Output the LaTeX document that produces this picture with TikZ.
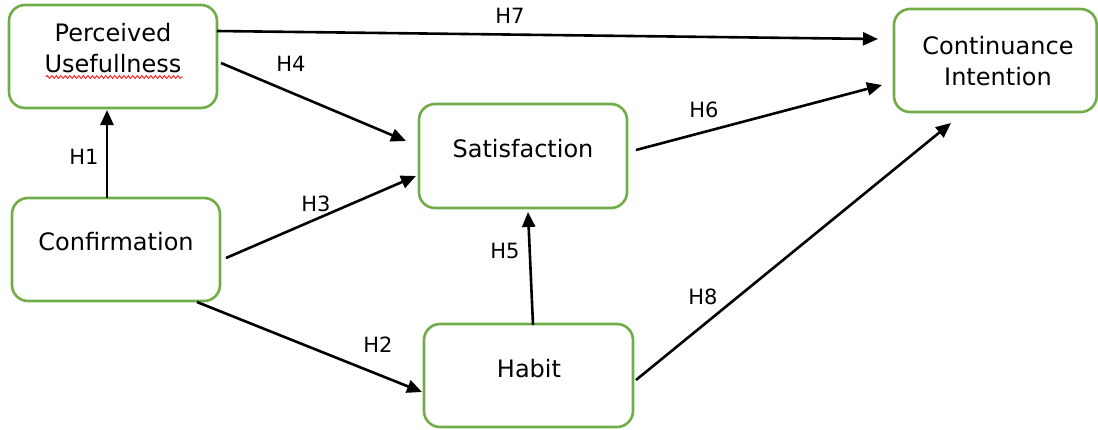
\documentclass[tikz,border=0pt]{standalone}
\usepackage{fontspec}
\setmainfont{DejaVu Sans}
\usetikzlibrary{arrows.meta,decorations.pathmorphing}
\definecolor{boxgreen}{HTML}{70AD47}
\begin{document}
\begin{tikzpicture}[x=1pt,y=-1pt,
  box/.style={draw=boxgreen,line width=2.6pt,rounded corners=16pt,fill=white},
  lbl/.style={font=\fontsize{24}{31}\selectfont,align=center,inner sep=0pt},
  hl/.style={font=\fontsize{21}{22}\selectfont,inner sep=0pt},
  conn/.style={line width=2.6pt,-{Triangle[length=15pt,width=13pt]}}]
\useasboundingbox (0,0) rectangle (1098,429);
% boxes
\draw[box] (9,5) rectangle (217,108);
\draw[box] (12,198) rectangle (220,301);
\draw[box] (419,104) rectangle (627,208);
\draw[box] (424,324) rectangle (633,427);
\draw[box] (894,9) rectangle (1096.7,112);
% texts
\node[lbl] (pu) at (113,48) {Perceived\\Usefullness};
\node[lbl] (cf) at (116,242) {Confirmation};
\node[lbl] (sa) at (523,149) {Satisfaction};
\node[lbl] (hb) at (529,369) {Habit};
\node[lbl] (ci) at (998,61) {Continuance\\Intention};
\draw[red,line width=0.8pt,decorate,decoration={snake,amplitude=1.4pt,segment length=4.5pt}] (46,77) -- (183,77);
% anchor coordinates
\coordinate (h1s) at (107,198); \coordinate (h1e) at (107,110);
\coordinate (h7s) at (217,31);  \coordinate (h7e) at (878,39);
\coordinate (h4s) at (221,63);  \coordinate (h4e) at (406,141);
\coordinate (h3s) at (226,258); \coordinate (h3e) at (416,176);
\coordinate (h6s) at (636,150); \coordinate (h6e) at (882,85);
\coordinate (h2s) at (197,302); \coordinate (h2e) at (422,392);
\coordinate (h5s) at (533,325); \coordinate (h5e) at (528,212);
\coordinate (h8s) at (636,380); \coordinate (h8e) at (951,123);
% connectors
\draw[conn] (h1s) -- (h1e);
\draw[conn] (h7s) -- (h7e);
\draw[conn] (h4s) -- (h4e);
\draw[conn] (h3s) -- (h3e);
\draw[conn] (h6s) -- (h6e);
\draw[conn] (h2s) -- (h2e);
\draw[conn] (h5s) -- (h5e);
\draw[conn] (h8s) -- (h8e);
% labels
\node[hl] (l1) at (84,157) {H1};
\node[hl] (l7) at (510,16) {H7};
\node[hl] (l4) at (291,64) {H4};
\node[hl] (l3) at (316,204) {H3};
\node[hl] (l6) at (704,110) {H6};
\node[hl] (l2) at (378,345) {H2};
\node[hl] (l5) at (505,251) {H5};
\node[hl] (l8) at (703,297) {H8};
\end{tikzpicture}
\end{document}
